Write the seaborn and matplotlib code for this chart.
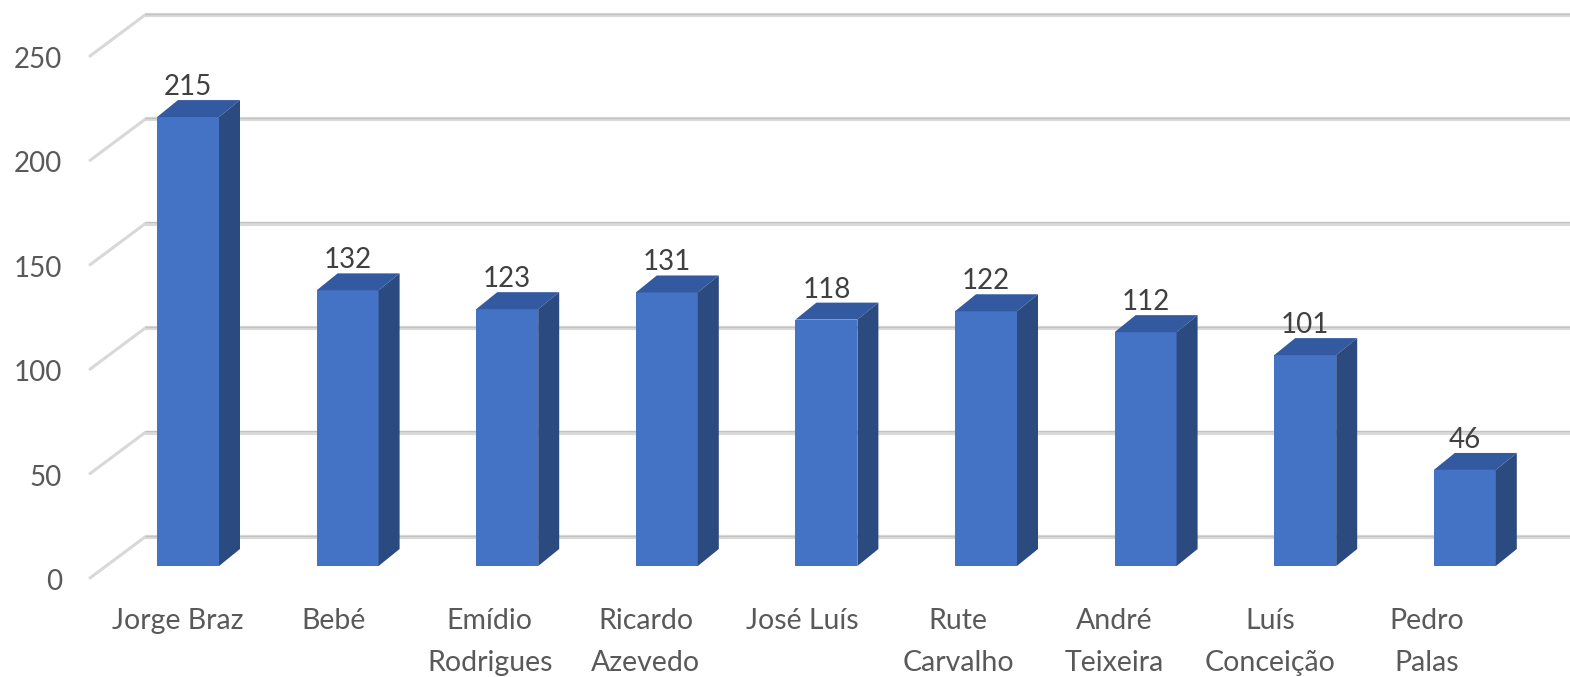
import numpy as np
import pandas as pd
import matplotlib.pyplot as plt
from matplotlib.patches import Polygon
import seaborn as sns

# ── Data ──────────────────────────────────────────────────
names = ["Jorge Braz", "Bebé", "Emídio\nRodrigues", "Ricardo\nAzevedo", "José Luís",
         "Rute\nCarvalho", "André\nTeixeira", "Luís\nConceição", "Pedro\nPalas"]
values = [215, 132, 123, 131, 118, 122, 112, 101, 46]
y_ticks = [0, 50, 100, 150, 200, 250]

# ── Style ─────────────────────────────────────────────────
FRONT = "#4472C4"
TOP = "#3359A0"
SIDE = "#2B4A80"
GRID = "#dadada"
GRID_DARK = "#c2c2c2"
WALL = "#d8d8d8"
TEXT = "#595959"
LABEL = "#404040"

# oblique "3D" projection, expressed in pixels of the output image
W, H = 1570, 677
PX_X = 159.6           # px per category
PX_Y = 2.088           # px per value unit
X0, Y0 = 188, 566      # pixel of (category 0, value 0) on the bars' front plane
BAR_W = 62 / PX_X
DEPTH = (21 / PX_X, 17 / PX_Y)          # bar depth
WALL_FRONT_X = (90 - X0) / PX_X         # left wall, front edge
WALL_BACK_X = (145 - X0) / PX_X         # left wall, back edge
WALL_FRONT_DY = -12 / PX_Y
WALL_BACK_DY = 29 / PX_Y

sns.set_theme(style="white")
plt.rcParams["font.family"] = ["Lato", "DejaVu Sans"]

fig = plt.figure(figsize=(W / 100, H / 100), dpi=100)
ax = fig.add_axes([0, 0, 1, 1])

df = pd.DataFrame({"name": names, "value": values})
sns.barplot(data=df, x="name", y="value", color=FRONT, saturation=1,
            width=BAR_W, linewidth=0, ax=ax, zorder=3)

xmin, xmax = -X0 / PX_X, (W - X0) / PX_X
ymin, ymax = (Y0 - H) / PX_Y, Y0 / PX_Y

# back wall gridlines + left wall diagonals
for v in y_ticks:
    yb = v + WALL_BACK_DY
    ax.plot([WALL_BACK_X, xmax], [yb, yb], color=GRID, lw=3, zorder=1,
            solid_capstyle="butt")
    ax.plot([WALL_BACK_X, xmax], [yb + 0.7, yb + 0.7], color=GRID_DARK, lw=0.9,
            zorder=1.1, solid_capstyle="butt")
    ax.plot([WALL_FRONT_X, WALL_BACK_X], [v + WALL_FRONT_DY, yb], color=WALL,
            lw=2.2, zorder=1, solid_capstyle="round")
    ax.text(62 / PX_X + xmin, v + WALL_FRONT_DY - 12 / PX_Y, str(v),
            ha="right", va="baseline", fontsize=20, color=TEXT)

# top and side faces of each bar
dx, dy = DEPTH
for bar, val in zip(list(ax.patches), values):
    x0 = bar.get_x()
    x1 = x0 + bar.get_width()
    h = bar.get_height()
    ax.add_patch(Polygon([(x0, h), (x1, h), (x1 + dx, h + dy), (x0 + dx, h + dy)],
                         closed=True, facecolor=TOP, edgecolor="none", zorder=3))
    ax.add_patch(Polygon([(x1, 0), (x1, h), (x1 + dx, h + dy), (x1 + dx, dy)],
                         closed=True, facecolor=SIDE, edgecolor="none", zorder=3))
    ax.text(x0 + bar.get_width() / 2, h + dy + 5 / PX_Y, f"{val}",
            ha="center", va="baseline", fontsize=20, color=LABEL, zorder=4)

# category labels
for i, name in enumerate(names):
    xl = (177.5 + 156.1 * i - X0) / PX_X
    ax.text(xl, (Y0 - 608) / PX_Y, name, ha="center", va="top",
            multialignment="center", linespacing=1.75,
            fontsize=20.5, color=TEXT)

ax.set_xlim(xmin, xmax)
ax.set_ylim(ymin, ymax)
ax.axis("off")

fig.savefig("out.png", dpi=100)
